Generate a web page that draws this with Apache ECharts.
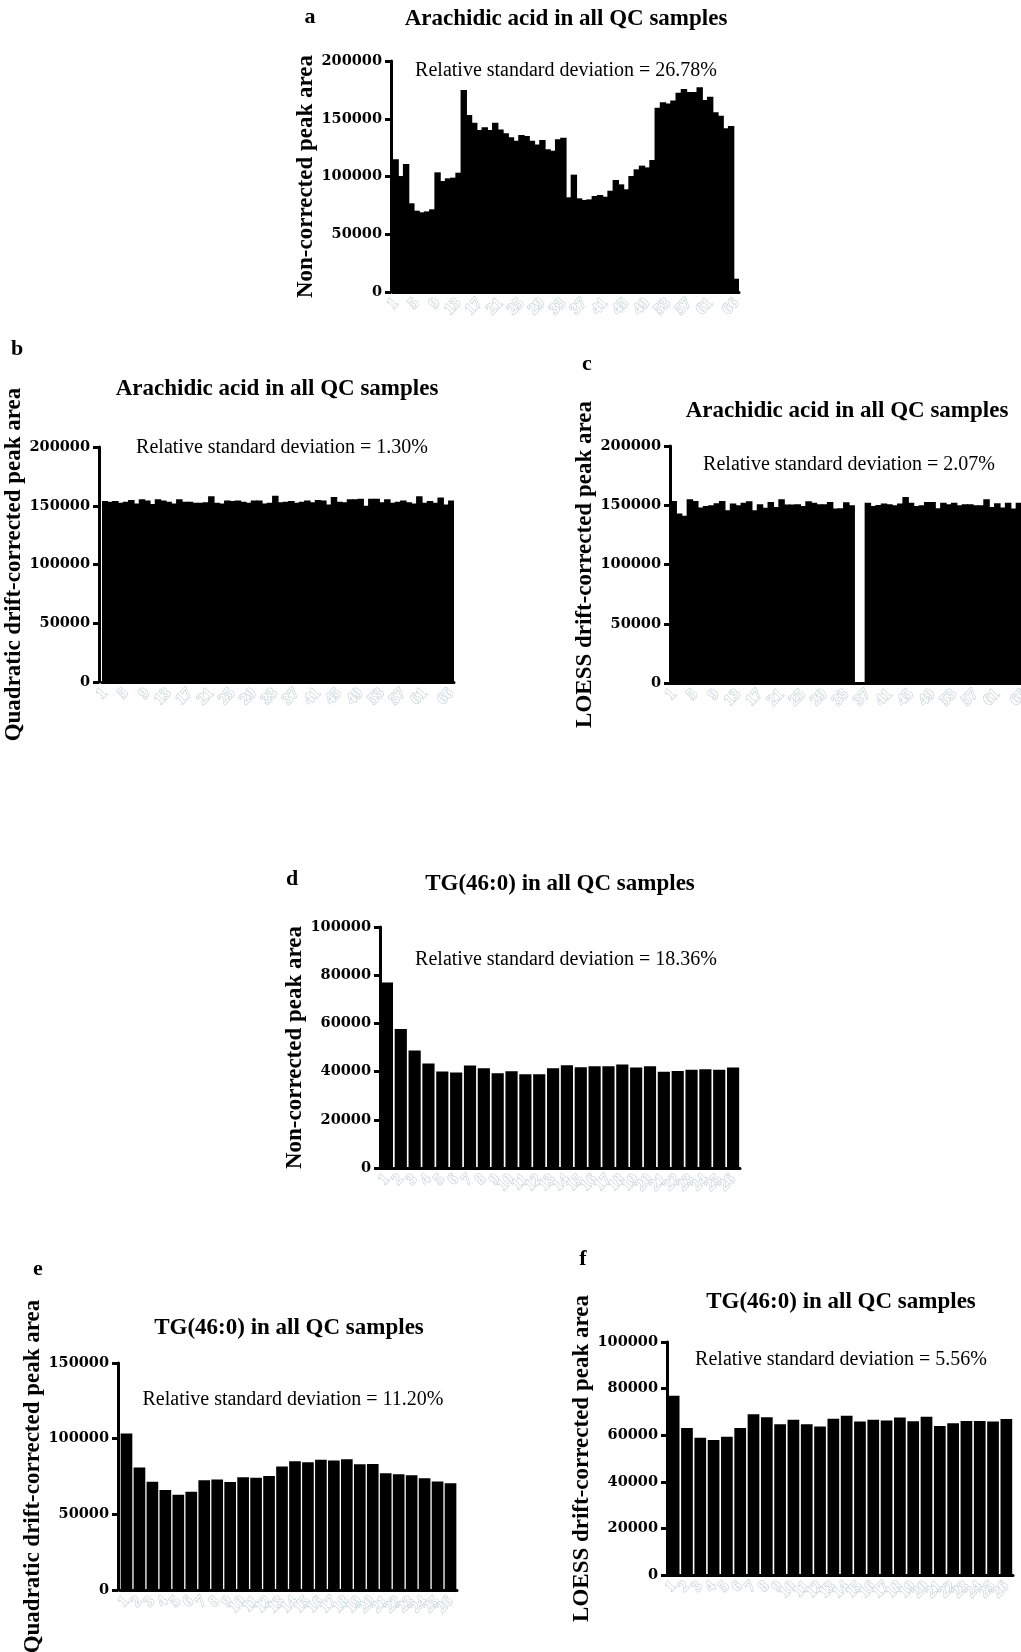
<!DOCTYPE html>
<html>
<head>
<meta charset="utf-8">
<script src="https://cdn.jsdelivr.net/npm/echarts@6/dist/echarts.min.js"></script>
<style>
html, body { margin: 0; padding: 0; background: #fff; }
#main { width: 1021px; height: 1652px; }
</style>
</head>
<body>
<div id="main"></div>
<script>
// QC sample numbers
var samples66 = ['1','2','3','4','5','6','7','8','9','10','11','12','13','14','15','16','17','18','19','20',
	'21','22','23','24','25','26','27','28','29','30','31','32','33','34','35','36','37','38','39','40',
	'41','42','43','44','45','46','47','48','49','50','51','52','53','54','55','56','57','58','59','60',
	'61','62','63','64','65','66'];
var samples26 = ['1','2','3','4','5','6','7','8','9','10','11','12','13','14','15','16','17','18','19','20',
	'21','22','23','24','25','26'];

// Arachidic acid peak areas
var arachidicRaw = [115000,100400,110800,76800,70400,69000,69800,71600,103600,96100,
	98400,99000,103300,174900,153200,146600,140300,142600,140300,146600,
	140800,137500,133900,131000,135900,135100,131000,127800,131600,123500,
	122400,132200,133600,82000,101600,81100,79700,80200,83100,84000,
	82500,87700,97000,93200,88900,100400,106200,109400,107900,114300,
	159600,164200,163300,165700,172600,175800,173200,173200,177200,166200,
	169100,155600,152700,141700,143700,11500];
var arachidicQuadratic = [154000,153500,154000,152500,153500,155000,152000,155500,154500,151500,
	155500,154500,153500,152000,155500,153500,153500,152500,152500,153000,
	158000,152500,152000,154500,154000,154500,153500,152500,154500,154500,
	152000,152500,158500,153000,153500,154000,152500,153500,154500,153000,
	155000,154500,151000,157500,153500,153000,155500,155500,156000,150000,
	156000,156000,153000,155500,152500,153500,154500,153000,152000,158000,
	152500,154000,152500,157000,151000,154500];
var arachidicLoess = [153600,143000,141100,155000,153600,148000,149400,150000,151700,153600,
	145800,151400,150000,152200,153300,145800,150800,147800,152800,148600,
	155000,150600,150600,150800,149400,153300,152200,150800,150800,152800,
	147200,147500,152500,150000,0,0,152200,149400,150300,151400,
	150800,150000,151400,156900,152200,149400,150000,152800,152800,147500,
	152200,150800,152200,150000,150800,150800,150000,150000,155000,148600,
	151700,148000,152200,147200,152200,151000];

// TG(46:0) peak areas
var tgRaw = [77000,57700,48800,43400,40000,39600,42500,41400,39300,40100,
	38900,38900,41400,42600,41800,42200,42200,42900,41700,42200,
	39900,40300,40800,41000,40800,41700];
var tgQuadratic = [103400,80900,71500,66000,62900,64900,72600,73000,71300,74500,
	74100,75400,81600,85100,84400,86000,85500,86400,83100,83300,
	77200,76500,75900,73900,71700,70600];
var tgLoess = [76900,63100,58900,57900,59300,63100,69000,67700,64700,66600,
	64700,63700,67100,68300,65900,66600,66300,67600,66000,67900,
	64000,65100,66100,66100,65900,67000];

var serif = '"Liberation Serif", "Times New Roman", serif';
var tickFont = '"DejaVu Serif", serif';

// barW: fixed bar width for the dense 66-sample panels, slightly wider than a band so bars join
var panels = [
	{ letter: 'a', letterXY: [310, 17], title: 'Arachidic acid in all QC samples', titleXY: [566, 19],
	  rsd: 'Relative standard deviation = 26.78%', rsdXY: [566, 71],
	  yName: 'Non-corrected peak area', cats: samples66, data: arachidicRaw, max: 200000, step: 50000,
	  grid: { left: 393, top: 61, width: 346, height: 231 }, every: 3, gap: '0%', barW: 6.4, yOffset: 2, nameGap: 65 },
	{ letter: 'b', letterXY: [17, 349], title: 'Arachidic acid in all QC samples', titleXY: [277, 389],
	  rsd: 'Relative standard deviation = 1.30%', rsdXY: [282, 448],
	  yName: 'Quadratic drift-corrected peak area', cats: samples66, data: arachidicQuadratic, max: 200000, step: 50000,
	  grid: { left: 102, top: 447, width: 352, height: 235 }, every: 3, gap: '0%', barW: 6.5, yOffset: 3, nameGap: 64 },
	{ letter: 'c', letterXY: [587, 364], title: 'Arachidic acid in all QC samples', titleXY: [847, 411],
	  rsd: 'Relative standard deviation = 2.07%', rsdXY: [849, 465],
	  yName: 'LOESS drift-corrected peak area', cats: samples66, data: arachidicLoess, max: 200000, step: 50000,
	  grid: { left: 671, top: 446, width: 356, height: 237 }, every: 3, gap: '0%', barW: 6.5, yOffset: 1, nameGap: 69 },
	{ letter: 'd', letterXY: [292, 879], title: 'TG(46:0) in all QC samples', titleXY: [560, 884],
	  rsd: 'Relative standard deviation = 18.36%', rsdXY: [566, 960],
	  yName: 'Non-corrected peak area', cats: samples26, data: tgRaw, max: 100000, step: 20000,
	  grid: { left: 380, top: 927, width: 360, height: 241 }, every: 0, gap: '12%', barW: null, yOffset: 0, nameGap: 70 },
	{ letter: 'e', letterXY: [38, 1269], title: 'TG(46:0) in all QC samples', titleXY: [289, 1328],
	  rsd: 'Relative standard deviation = 11.20%', rsdXY: [293, 1400],
	  yName: 'Quadratic drift-corrected peak area', cats: samples26, data: tgQuadratic, max: 150000, step: 50000,
	  grid: { left: 120, top: 1363, width: 337, height: 227 }, every: 0, gap: '10%', barW: null, yOffset: 2, nameGap: 66 },
	{ letter: 'f', letterXY: [583, 1259], title: 'TG(46:0) in all QC samples', titleXY: [841, 1302],
	  rsd: 'Relative standard deviation = 5.56%', rsdXY: [841, 1360],
	  yName: 'LOESS drift-corrected peak area', cats: samples26, data: tgLoess, max: 100000, step: 20000,
	  grid: { left: 667, top: 1342, width: 346, height: 233 }, every: 0, gap: '12%', barW: null, yOffset: 0, nameGap: 69 }
];

var grids = [], xAxes = [], yAxes = [], series = [], texts = [];

function label(x, y, text, size, weight) {
	return {
		type: 'text', x: x, y: y, silent: true,
		style: { text: text, fill: '#000', fontFamily: serif, fontSize: size, fontWeight: weight,
			align: 'center', verticalAlign: 'middle' }
	};
}

panels.forEach(function(p, i) {
	grids.push({
		left: p.grid.left, top: p.grid.top, width: p.grid.width, height: p.grid.height,
		containLabel: false, outerBoundsMode: 'none'
	});
	xAxes.push({
		type: 'category', gridIndex: i, data: p.cats,
		axisLine: { lineStyle: { color: '#000', width: 3 } },
		axisTick: { alignWithLabel: true, interval: p.every, length: 7, lineStyle: { color: '#000', width: 2.5 } },
		axisLabel: {
			interval: p.every, rotate: 45, margin: 9, showMinLabel: true, showMaxLabel: true,
			hideOverlap: false,
			color: '#ffffff', textBorderColor: '#c4d3d8', textBorderWidth: 1.3,
			fontFamily: serif, fontWeight: 'bold', fontSize: 16
		},
		splitLine: { show: false }
	});
	yAxes.push({
		type: 'value', gridIndex: i, min: 0, max: p.max, interval: p.step, offset: p.yOffset,
		name: p.yName, nameLocation: 'middle', nameGap: p.nameGap,
		nameTextStyle: { color: '#000', fontFamily: serif, fontWeight: 'bold', fontSize: 23 },
		axisLine: { show: true, lineStyle: { color: '#000', width: 3 } },
		axisTick: { show: true, length: 6, lineStyle: { color: '#000', width: 3 } },
		axisLabel: {
			color: '#000', fontFamily: tickFont, fontWeight: 'bold', fontSize: 14.5, margin: 9,
			formatter: function(v) { return String(v); }
		},
		splitLine: { show: false }
	});
	var s = {
		type: 'bar', xAxisIndex: i, yAxisIndex: i, data: p.data,
		barCategoryGap: p.gap, itemStyle: { color: '#000' }
	};
	if (p.barW) s.barWidth = p.barW;
	series.push(s);
	texts.push(label(p.letterXY[0], p.letterXY[1], p.letter, 22, 'bold'));
	texts.push(label(p.titleXY[0], p.titleXY[1], p.title, 23, 'bold'));
	texts.push(label(p.rsdXY[0], p.rsdXY[1], p.rsd, 20, 'normal'));
});

var myChart = echarts.init(document.getElementById('main'));
var option = {
	backgroundColor: '#ffffff',
	animation: false,
	grid: grids,
	xAxis: xAxes,
	yAxis: yAxes,
	series: series,
	graphic: texts
};
myChart.setOption(option);
</script>
</body>
</html>
